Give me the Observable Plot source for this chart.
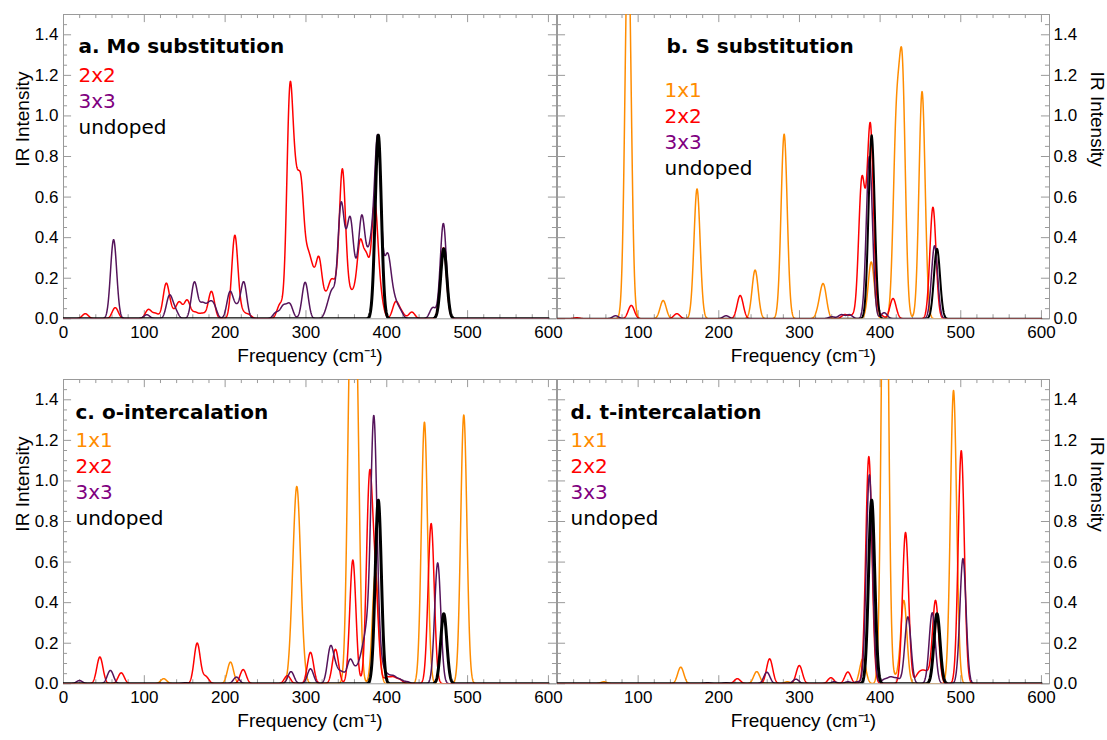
<!DOCTYPE html>
<html><head><meta charset="utf-8">
<script src="https://cdn.jsdelivr.net/npm/d3@7"></script>
<script src="https://cdn.jsdelivr.net/npm/@observablehq/plot@0.6"></script>
<style>
body{margin:0;background:#fff}
#chart{position:relative;width:1107px;height:740px;background:#fff}
</style>
</head><body><div id="chart"></div>
<script>
// ---- axis ticks ----
const xTicks = [0, 100, 200, 300, 400, 500, 600];
const yTicks = [0, 0.2, 0.4, 0.6, 0.8, 1.0, 1.2, 1.4];
const panelTitles = ["a. Mo substitution", "b. S substitution", "c. o-intercalation", "d. t-intercalation"];
const xLabel = "Frequency (cm\u207B\u00B9)";
const yLabel = "IR Intensity";

// ---- IR peaks: [frequency cm-1, intensity] ----
const undopedPeaks = [[389.5, 0.905], [470.5, 0.345]];

const aRed = [[27,0.025],[64,0.055],[105,0.045],[114,0.025],[127,0.17],[134,0.03],[143,0.08],[153,0.09],[163,0.03],[172,0.025],[183,0.135],[212,0.41],[221,0.03],[229,0.02],[268,0.07],[280,1.06],[287,0.5],[294,0.58],[302,0.24],[308,0.17],[316,0.28],[324,0.08],[331,0.15],[337,0.1],[345,0.71],[352,0.1],[359,0.1],[367,0.35],[375,0.27],[385,0.55],[392,0.1],[411,0.08],[418,0.03],[431,0.033],[470,0.35]];
const aPurple = [[62,0.39],[103,0.02],[131,0.11],[138,0.04],[162,0.18],[172,0.07],[180,0.06],[186,0.06],[206,0.13],[214,0.05],[223,0.18],[263,0.03],[272,0.06],[280,0.07],[299,0.18],[327,0.05],[333,0.12],[343,0.51],[349,0.18],[355,0.42],[362,0.14],[369,0.45],[376,0.19],[382,0.28],[389,0.84],[397,0.12],[402,0.25],[409,0.08],[416,0.04],[457,0.055],[470,0.47]];

const bOrange = [[87.5,1.9],[131,0.09],[173,0.64],[245,0.24],[281,0.91],[325,0.05],[330,0.15],[389,0.28],[420,0.9],[427.5,1.17],[452,1.12]];
const bRed = [[24,0.005],[91.5,0.066],[148,0.025],[226.5,0.115],[356,0.02],[365,0.015],[377,0.63],[382,0.12],[388,0.92],[400,0.02],[416,0.1],[465.5,0.55]];
const bPurple = [[72,0.015],[209,0.015],[340,0.01],[352,0.02],[362,0.02],[386.7,0.8],[405,0.03],[467.5,0.36]];

const cOrange = [[124,0.025],[206.6,0.107],[284,0.3],[289,0.76],[294,0.2],[355,1.6],[362,1.6],[386,0.55],[446.6,1.29],[495.3,1.325]];
const cRed = [[45,0.132],[71.4,0.054],[165.4,0.2],[176,0.035],[222.3,0.07],[277,0.04],[305.6,0.155],[336.5,0.17],[358,0.61],[378.6,0.98],[386,0.44],[400,0.03],[408,0.03],[416,0.02],[454.9,0.79]];
const cPurple = [[19.8,0.016],[58,0.066],[151,0.005],[214,0.033],[281.5,0.06],[305.6,0.074],[330.3,0.175],[337,0.06],[344.6,0.05],[354.7,0.115],[363,0.06],[370,0.12],[376,0.2],[384,1.29],[392,0.1],[400,0.04],[408,0.035],[416,0.02],[425,0.01],[463,0.596]];

const dOrange = [[57.5,0.01],[152.8,0.082],[247,0.06],[285,0.01],[378.5,0.123],[406,3.0],[420,0.03],[429.4,0.41],[491,1.446]];
const dRed = [[223,0.025],[263,0.123],[299.8,0.09],[339,0.03],[360,0.058],[386,1.12],[431.5,0.746],[447,0.04],[453,0.045],[459,0.04],[468.7,0.41],[500.6,1.149]];
const dPurple = [[186,0.005],[209,0.005],[259.6,0.057],[295.6,0.023],[343,0.01],[360,0.01],[372,0.01],[386.7,1.03],[405,0.02],[413,0.03],[421,0.025],[434.4,0.33],[464.6,0.35],[502.7,0.617]];

// ---- styling ----
const lineColor = {"1x1": "#ff8c00", "2x2": "#ff0000", "3x3": "#55145b", "undoped": "#000000"};
const textColor = {"1x1": "#ff8c00", "2x2": "#ff0000", "3x3": "#800080", "undoped": "#000000"};
const sigma = 3.8; // Gaussian broadening (cm-1)
const grid = d3.range(0, 600.001, 0.25);

function spectrum(peaks) {
  return grid.map(f => ({f, v: d3.sum(peaks, ([c, h]) => h * Math.exp(-((f - c) ** 2) / (2 * sigma * sigma)))}));
}

const X_MAX = 610, Y_MAX = 1.5;
const xMinor = d3.range(0, 601, 20).filter(d => d % 100 !== 0);
const yMinor = d3.range(0, 1.5001, 0.05).filter(d => Math.abs(d * 10 - Math.round(d * 10)) > 1e-6 || Math.round(d * 10) % 2 === 1);

function panel({title, series, left, top, side, titleDx, titleDy, legendDx, legendDy, undopedWidth}) {
  const width = side === "left" ? 557 : 551;
  const marginLeft = side === "left" ? 63 : 1;
  const marginRight = side === "left" ? 1 : 58;
  const frameCol = "#9a9a9a";
  const marks = [
    Plot.frame({stroke: frameCol}),
    // inward tick marks on all four sides
    Plot.ruleX(xTicks, {x: d => d, y1: 0, y2: 0.04, stroke: frameCol}),
    Plot.ruleX(xMinor, {x: d => d, y1: 0, y2: 0.02, stroke: frameCol}),
    Plot.ruleX(xTicks, {x: d => d, y1: Y_MAX, y2: Y_MAX - 0.04, stroke: frameCol}),
    Plot.ruleX(xMinor, {x: d => d, y1: Y_MAX, y2: Y_MAX - 0.02, stroke: frameCol}),
    Plot.ruleY(yTicks, {y: d => d, x1: 0, x2: 10, stroke: frameCol}),
    Plot.ruleY(yMinor, {y: d => d, x1: 0, x2: 5, stroke: frameCol}),
    Plot.ruleY(yTicks, {y: d => d, x1: X_MAX, x2: X_MAX - 10, stroke: frameCol}),
    Plot.ruleY(yMinor, {y: d => d, x1: X_MAX, x2: X_MAX - 5, stroke: frameCol}),
    Plot.axisX({ticks: side === "left" ? xTicks : xTicks.slice(1), tickSize: 0, tickPadding: 7, fontSize: 17, label: null, tickFormat: d => String(d)}),
    Plot.axisY({anchor: side, ticks: yTicks, tickSize: 0, tickPadding: side === "left" ? 5 : 4, fontSize: 17, label: null, tickFormat: d3.format(".1f")}),
    Plot.text([xLabel], {frameAnchor: "bottom", dy: 43, lineAnchor: "bottom", fontSize: 19, text: d => d, fill: "#000"}),
    Plot.text([yLabel], {frameAnchor: side, dx: side === "left" ? -41 : 48, rotate: side === "left" ? -90 : 90, fontSize: 19, text: d => d, fill: "#000"})
  ];
  for (const s of series) {
    marks.push(Plot.line(spectrum(s.peaks), {
      x: "f", y: "v", stroke: lineColor[s.name],
      strokeWidth: s.name === "undoped" ? undopedWidth : 1.5, clip: true
    }));
  }
  marks.push(Plot.text([title], {frameAnchor: "top-left", dx: titleDx, dy: titleDy, text: d => d, textAnchor: "start", lineAnchor: "bottom", fontSize: 20, fontWeight: "bold", fontFamily: "DejaVu Sans", fill: "#000"}));
  series.forEach((s, i) => {
    marks.push(Plot.text([s.name], {frameAnchor: "top-left", dx: legendDx, dy: legendDy + i * 26, text: d => d, textAnchor: "start", lineAnchor: "bottom", fontSize: 20, fontFamily: "DejaVu Sans", fill: textColor[s.name]}));
  });
  const svg = Plot.plot({
    width, height: 370,
    marginLeft, marginRight, marginTop: 14, marginBottom: 51.7,
    x: {domain: [0, X_MAX], label: null},
    y: {domain: [0, Y_MAX], label: null},
    style: {fontFamily: "'Liberation Sans', Arial, sans-serif", overflow: "visible", background: "transparent", color: "#000"},
    marks
  });
  svg.style.position = "absolute";
  svg.style.left = left + "px";
  svg.style.top = top + "px";
  document.getElementById("chart").appendChild(svg);
}

panel({title: panelTitles[0], left: 0, top: 0, side: "left", titleDx: 15, titleDy: 38, legendDx: 15, legendDy: 67.7, undopedWidth: 3,
  series: [{name: "2x2", peaks: aRed}, {name: "3x3", peaks: aPurple}, {name: "undoped", peaks: undopedPeaks}]});
panel({title: panelTitles[1], left: 556, top: 0, side: "right", titleDx: 109, titleDy: 38, legendDx: 107, legendDy: 82.7, undopedWidth: 2,
  series: [{name: "1x1", peaks: bOrange}, {name: "2x2", peaks: bRed}, {name: "3x3", peaks: bPurple}, {name: "undoped", peaks: undopedPeaks}]});
panel({title: panelTitles[2], left: 0, top: 365, side: "left", titleDx: 12, titleDy: 39.3, legendDx: 12, legendDy: 67, undopedWidth: 3,
  series: [{name: "1x1", peaks: cOrange}, {name: "2x2", peaks: cRed}, {name: "3x3", peaks: cPurple}, {name: "undoped", peaks: undopedPeaks}]});
panel({title: panelTitles[3], left: 556, top: 365, side: "right", titleDx: 13, titleDy: 39.3, legendDx: 13, legendDy: 67, undopedWidth: 3,
  series: [{name: "1x1", peaks: dOrange}, {name: "2x2", peaks: dRed}, {name: "3x3", peaks: dPurple}, {name: "undoped", peaks: undopedPeaks}]});
</script>
</body></html>
